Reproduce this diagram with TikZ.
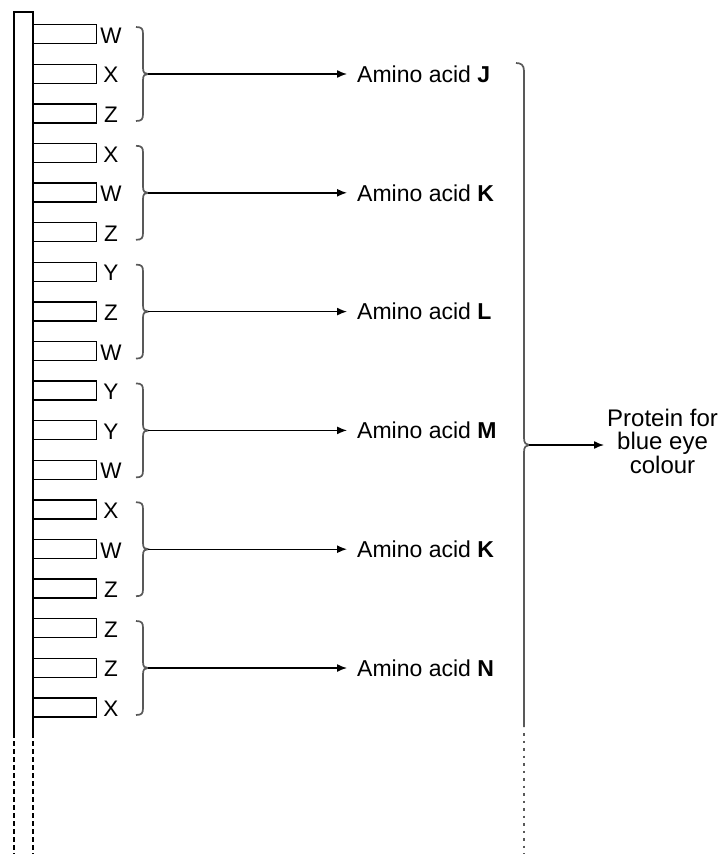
\documentclass[tikz,border=0pt]{standalone}
\usepackage{fontspec}
\setmainfont{Liberation Sans}
\usetikzlibrary{arrows.meta}
\begin{document}
\begin{tikzpicture}[x=1pt,y=-1pt,
  strip/.style={line width=1.5pt,black},
  tooth/.style={draw,line width=1.4pt,minimum width=63pt,minimum height=19pt,inner sep=0pt,anchor=north west},
  base/.style={font=\fontsize{22.5}{24}\selectfont,inner sep=0pt},
  acid/.style={font=\fontsize{23}{25}\selectfont,inner sep=0pt,anchor=west},
  brc/.style={line width=1.7pt,black!65},
  arr/.style={line width=1.4pt,shorten >=10pt,-{Latex[length=10pt,width=8pt]}}]
\useasboundingbox (0,0) rectangle (725,854);
% strip
\draw[strip] (14,733) -- (14,12) -- (33,12) -- (33,733);
\draw[strip,dash pattern=on 5pt off 3pt] (14,733) -- (14,854);
\draw[strip,dash pattern=on 5pt off 3pt] (33,733) -- (33,854);
% teeth and letters
\foreach \L [count=\i from 0] in {W,X,Z,X,W,Z,Y,Z,W,Y,Y,W,X,W,Z,Z,Z,X}{
  \node[tooth] (t\i) at (33,{24+39.6*\i}) {};
  \node[base] (b\i) at (111,{24+39.6*\i+11.5}) {\L};
}
% small braces and amino acids
\foreach \A [count=\g from 0] in {J,K,L,M,K,N}{
  \pgfmathsetmacro{\yc}{74+118.8*\g}
  \draw[brc] (136,\yc-47) .. controls (142,\yc-47) and (143,\yc-45) .. (143,\yc-40)
     -- (143,\yc-6) .. controls (143,\yc-1) and (145,\yc) .. (148,\yc)
     .. controls (145,\yc) and (143,\yc+1) .. (143,\yc+6)
     -- (143,\yc+40) .. controls (143,\yc+45) and (142,\yc+47) .. (136,\yc+47);
  \coordinate (tip\g) at (148,\yc);
  \node[acid] (aa\g) at (357,\yc) {Amino acid \textbf{\A}};
  \draw[arr] (tip\g) -- (aa\g.west);
}
% big brace
\draw[brc] (516,63) .. controls (521,63) and (524,65) .. (524,71)
  -- (524,438) .. controls (524,443) and (526,445) .. (529,445)
  .. controls (526,445) and (524,447) .. (524,452) -- (524,727);
\draw[brc,dash pattern=on 2.5pt off 5pt] (524,733) -- (524,854);
\coordinate (bigtip) at (529,445);
\node[font=\fontsize{24}{23.5}\selectfont,align=center,inner sep=0pt,anchor=west] (prot) at (607,441) {Protein for\\blue eye\\colour};
\draw[arr,shorten >=3pt] (bigtip) -- (prot.west |- bigtip);
\end{tikzpicture}
\end{document}
